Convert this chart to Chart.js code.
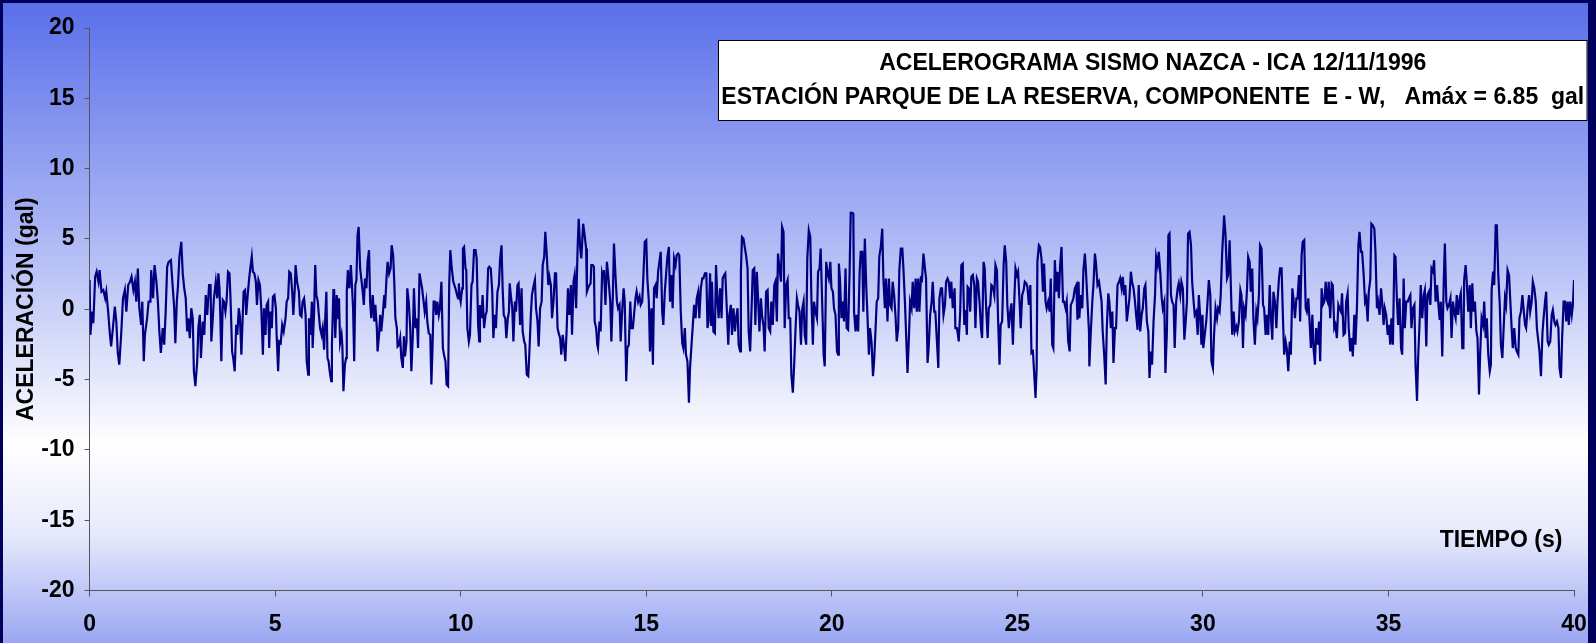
<!DOCTYPE html>
<html>
<head>
<meta charset="utf-8">
<script src="https://cdn.jsdelivr.net/npm/chart.js@4.4.0/dist/chart.umd.min.js"></script>
<style>
  html, body { margin: 0; padding: 0; background: #00005c; overflow: hidden; }
  #marco { position: absolute; left: 3px; top: 3px; width: 1585px; height: 640px; }
</style>
</head>
<body>
<div id="marco"><canvas id="acelerograma" width="1585" height="640"></canvas></div>
<script>
// registro: [tiempo (s), aceleracion (gal)]
const tramo01 = [[0.00,2.08],[0.02,-1.82],[0.07,-0.17],[0.10,-0.99],[0.15,2.31],[0.19,2.67],[0.24,1.96],[0.27,2.78],[0.32,1.25],[0.37,1.37],[0.42,0.78],[0.45,1.25],[0.50,-0.17],[0.54,-1.58],[0.58,-2.64],[0.62,-1.58],[0.68,0.19],[0.72,-0.87],[0.76,-3.11],[0.80,-3.94],[0.85,-1.82],[0.90,0.78],[0.95,1.37],[0.99,-0.17],[1.04,1.72],[1.09,1.96],[1.13,2.31],[1.18,1.37],[1.22,1.96],[1.26,0.54],[1.30,2.90],[1.34,0.07],[1.39,-1.11],[1.42,0.54],[1.46,-3.70],[1.49,-1.82],[1.55,-0.64],[1.59,0.54],[1.64,0.54],[1.66,2.78],[1.71,0.78],[1.75,3.14],[1.80,1.96],[1.84,0.54],[1.88,-1.58],[1.92,-3.11],[1.97,-1.34],[2.01,-2.52],[2.05,-0.17],[2.09,3.02],[2.13,3.37],[2.19,3.49],[2.23,1.96],[2.28,0.07],[2.31,-2.41],[2.35,0.54],[2.38,1.60],[2.42,3.73],[2.47,4.79],[2.51,2.55],[2.55,1.49],[2.59,0.78],[2.63,-1.58],[2.66,-0.64],[2.70,-2.05],[2.74,0.07],[2.78,-0.64],[2.81,-4.41],[2.85,-5.47],[2.90,-3.70],[2.93,-1.34],[2.97,-0.40],[3.00,-3.47],[3.05,-0.87],[3.09,-1.82],[3.13,1.01],[3.17,-0.40],[3.22,1.72]];
const tramo02 = [[3.26,1.72],[3.28,-2.29],[3.32,-0.64],[3.35,0.78],[3.40,1.96],[3.44,0.78],[3.47,2.55],[3.50,1.49],[3.52,-0.17],[3.55,-3.70],[3.59,0.66],[3.62,0.54],[3.66,-0.17],[3.69,0.54],[3.73,2.67],[3.77,2.55],[3.80,0.54],[3.84,-3.00],[3.87,-3.47],[3.91,-4.41],[3.95,-1.11],[3.98,-1.82],[4.02,0.07],[4.05,-0.52],[4.09,-3.23],[4.13,-0.17],[4.15,1.25],[4.19,1.37],[4.22,-0.40],[4.26,1.01],[4.30,2.19],[4.33,2.90],[4.37,3.73],[4.40,2.67],[4.44,2.55],[4.48,1.96],[4.51,0.31],[4.55,2.08],[4.59,1.72],[4.63,-0.17],[4.67,-3.23],[4.70,0.07],[4.74,-1.82],[4.77,0.31],[4.81,0.54],[4.84,-2.76],[4.87,-0.17],[4.91,-1.34],[4.94,0.90],[4.98,1.01],[5.02,0.07],[5.04,-1.82],[5.08,-4.41],[5.11,-2.29],[5.15,-2.41],[5.19,-1.11],[5.23,-1.58],[5.28,-0.64],[5.31,0.54],[5.35,0.78],[5.38,2.67],[5.42,2.55],[5.46,1.25],[5.49,-0.40],[5.53,1.49],[5.55,3.14],[5.59,1.96],[5.64,1.25],[5.67,-0.40],[5.71,-0.52],[5.74,0.54],[5.78,0.78],[5.82,-0.40],[5.85,-3.70],[5.89,-4.65],[5.91,-0.64],[5.95,-1.82],[5.99,0.54],[6.01,-2.76],[6.05,-0.17],[6.08,3.14],[6.11,1.01],[6.15,0.54],[6.17,-0.17],[6.21,-1.34],[6.25,-1.82],[6.28,-1.34],[6.32,-2.88],[6.35,-0.64],[6.38,1.25],[6.41,-3.47],[6.44,-3.70],[6.47,-4.41],[6.51,-5.12],[6.53,-2.52],[6.57,1.37]];
const tramo03 = [[6.59,1.37],[6.62,-2.05],[6.66,1.01],[6.70,-0.64],[6.72,0.78],[6.75,-2.41],[6.79,-1.82],[6.81,-2.52],[6.84,-5.83],[6.88,-3.94],[6.91,-3.47],[6.93,1.25],[6.96,2.78],[7.00,1.49],[7.04,3.14],[7.06,2.19],[7.10,0.07],[7.13,-3.70],[7.16,1.72],[7.19,2.08],[7.22,5.26],[7.25,5.85],[7.29,2.90],[7.32,2.19],[7.36,1.25],[7.39,0.31],[7.42,2.19],[7.46,1.49],[7.49,3.37],[7.53,4.20],[7.56,0.54],[7.59,-0.64],[7.63,1.01],[7.67,-0.87],[7.70,0.31],[7.74,-1.34],[7.76,-3.00],[7.80,-1.82],[7.83,-0.40],[7.86,-1.58],[7.90,-0.40],[7.94,1.01],[7.96,0.07],[8.00,2.19],[8.03,3.37],[8.07,2.55],[8.11,2.90],[8.14,4.55],[8.18,3.84],[8.21,1.96],[8.24,-0.64],[8.28,-1.34],[8.30,-2.64],[8.34,-2.52],[8.37,-2.05],[8.40,-3.47],[8.44,-4.17],[8.47,-1.93],[8.50,-3.35],[8.54,-2.29],[8.56,1.49],[8.60,0.54],[8.64,-1.34],[8.67,-4.41],[8.71,-1.82],[8.74,1.49],[8.78,-1.34],[8.82,-0.64],[8.85,-2.76],[8.89,2.55],[8.92,2.08],[8.96,1.49],[9.00,0.54],[9.03,-0.17],[9.07,0.54],[9.10,-0.87],[9.14,-1.70],[9.18,-1.82],[9.21,-5.35],[9.24,-2.76],[9.27,0.54],[9.30,0.54],[9.34,-0.40],[9.37,0.54],[9.41,-0.40],[9.44,0.07],[9.48,1.96],[9.52,-2.76],[9.55,-3.23],[9.59,-3.70],[9.62,-5.35],[9.66,-5.47],[9.69,1.72],[9.72,4.20],[9.76,2.90],[9.80,1.96],[9.83,1.72],[9.87,1.37],[9.90,1.01]];
const tramo04 = [[9.93,0.78],[9.95,1.84],[9.97,1.01],[10.00,0.54],[10.04,1.49],[10.06,4.32],[10.09,4.43],[10.13,2.90],[10.15,2.78],[10.18,-1.34],[10.22,-2.29],[10.25,-1.82],[10.29,1.72],[10.32,1.96],[10.36,4.20],[10.40,4.20],[10.43,3.61],[10.47,-1.11],[10.50,-2.29],[10.52,0.31],[10.56,-0.64],[10.59,1.01],[10.63,-1.34],[10.67,-0.40],[10.70,-0.17],[10.74,2.90],[10.77,3.02],[10.81,2.90],[10.85,1.25],[10.88,-2.05],[10.92,-0.40],[10.95,-1.34],[10.99,1.25],[11.03,1.72],[11.06,3.49],[11.10,4.55],[11.13,1.49],[11.16,-0.40],[11.20,-0.64],[11.23,-2.05],[11.27,-0.64],[11.30,-0.17],[11.32,1.84],[11.35,1.01],[11.39,0.07],[11.42,-2.29],[11.46,0.54],[11.49,-0.17],[11.53,1.72],[11.56,1.84],[11.60,-1.11],[11.64,1.49],[11.67,-1.58],[11.71,-2.29],[11.74,-2.52],[11.78,-4.65],[11.82,-4.76],[11.85,-3.11],[11.89,-0.40],[11.92,1.01],[11.96,1.60],[12.00,2.08],[12.03,0.07],[12.07,-0.87],[12.10,-2.64],[12.14,0.07],[12.18,0.54],[12.21,3.14],[12.25,3.73],[12.28,5.50],[12.32,3.84],[12.36,1.72],[12.39,2.31],[12.43,1.72],[12.46,-0.64],[12.50,0.54],[12.54,2.55],[12.57,2.55],[12.61,-1.34],[12.64,-1.70],[12.68,-2.05],[12.71,-3.23],[12.75,-1.82],[12.79,-2.76],[12.82,-3.70],[12.86,-1.11],[12.89,1.49],[12.93,-0.40],[12.97,1.72],[13.00,-1.82],[13.04,1.96],[13.07,2.43],[13.11,0.07],[13.15,4.32],[13.18,6.44],[13.22,4.32],[13.25,3.61]];
const tramo05 = [[13.30,6.08],[13.34,5.26],[13.38,4.32],[13.40,1.25],[13.43,1.49],[13.47,1.72],[13.50,1.84],[13.52,3.14],[13.56,3.14],[13.59,3.02],[13.61,-0.87],[13.65,-1.34],[13.68,-2.52],[13.70,-2.76],[13.74,-0.87],[13.77,-1.58],[13.81,2.55],[13.84,2.19],[13.86,2.78],[13.90,0.31],[13.94,3.37],[13.97,2.55],[14.01,1.25],[14.03,0.54],[14.06,-2.29],[14.10,1.01],[14.13,4.67],[14.17,2.43],[14.21,0.54],[14.24,0.07],[14.28,0.31],[14.31,-2.29],[14.35,-0.17],[14.39,1.49],[14.42,0.54],[14.46,-5.12],[14.49,-2.76],[14.53,-2.52],[14.57,0.54],[14.60,-1.34],[14.64,-1.34],[14.67,-0.40],[14.71,0.78],[14.74,1.25],[14.78,0.54],[14.82,0.90],[14.85,0.31],[14.89,0.54],[14.92,2.19],[14.96,4.79],[15.00,4.91],[15.03,2.19],[15.07,0.54],[15.10,-3.00],[15.14,0.07],[15.18,-3.94],[15.21,1.49],[15.25,1.72],[15.28,0.78],[15.32,2.67],[15.36,3.49],[15.39,4.08],[15.43,-0.17],[15.46,-1.11],[15.50,1.25],[15.54,2.67],[15.57,3.73],[15.61,4.43],[15.64,0.54],[15.68,2.43],[15.71,0.07],[15.75,3.61],[15.79,3.14],[15.82,3.84],[15.86,3.96],[15.89,3.84],[15.93,-0.17],[15.97,-2.41],[16.00,-2.76],[16.04,-1.34],[16.07,-3.23],[16.11,-3.70],[16.15,-6.65],[16.18,-4.17],[16.22,-2.52],[16.25,-1.34],[16.29,0.31],[16.33,-0.64],[16.36,0.78],[16.40,1.25],[16.43,-0.64],[16.47,1.49],[16.51,2.19],[16.54,2.19],[16.58,2.55]];
const tramo06 = [[16.62,2.55],[16.65,-1.34],[16.68,-0.87],[16.72,2.55],[16.75,-1.11],[16.77,1.96],[16.81,-1.58],[16.85,-1.70],[16.88,3.14],[16.92,0.54],[16.95,-0.64],[16.99,1.49],[17.03,-0.64],[17.06,2.19],[17.10,2.43],[17.13,2.55],[17.17,0.07],[17.21,-2.52],[17.24,-0.40],[17.28,0.31],[17.31,-1.82],[17.35,0.07],[17.39,-1.58],[17.42,-0.64],[17.46,0.07],[17.49,-2.52],[17.53,-3.00],[17.55,2.67],[17.58,5.14],[17.62,5.02],[17.66,4.32],[17.69,3.84],[17.73,2.90],[17.76,-1.58],[17.80,-3.00],[17.83,-0.64],[17.87,2.78],[17.91,2.90],[17.94,-1.11],[17.98,2.67],[18.01,1.01],[18.05,-1.58],[18.09,0.78],[18.12,-0.40],[18.16,-1.23],[18.19,-3.00],[18.23,1.25],[18.27,1.37],[18.30,-1.34],[18.34,-1.58],[18.37,0.54],[18.41,-1.11],[18.45,1.72],[18.48,1.96],[18.52,-0.87],[18.55,3.96],[18.59,2.90],[18.63,1.96],[18.66,5.85],[18.70,5.50],[18.73,-1.34],[18.77,1.72],[18.81,2.08],[18.84,-0.64],[18.88,-0.64],[18.91,-4.65],[18.95,-5.94],[18.99,-3.70],[19.02,-1.58],[19.06,0.78],[19.09,0.31],[19.13,-0.17],[19.17,-2.52],[19.20,-0.05],[19.24,0.54],[19.27,-1.82],[19.31,-2.52],[19.34,3.61],[19.38,5.61],[19.42,5.14],[19.45,0.78],[19.49,-2.52],[19.52,0.54],[19.56,-0.17],[19.60,-0.64],[19.63,2.67],[19.67,2.90],[19.70,4.32],[19.74,0.54],[19.78,-3.23],[19.81,-4.06],[19.85,3.37],[19.88,2.67],[19.92,2.19]];
const tramo07 = [[19.96,3.37],[19.99,1.49],[20.03,1.25],[20.06,0.07],[20.10,-0.40],[20.14,-3.00],[20.17,-3.23],[20.19,3.25],[20.22,2.19],[20.26,-0.64],[20.30,0.54],[20.33,-0.87],[20.37,2.90],[20.40,-1.34],[20.44,-1.46],[20.48,2.67],[20.51,6.85],[20.55,6.85],[20.58,6.79],[20.60,-0.17],[20.64,-1.58],[20.67,-0.40],[20.71,-1.58],[20.75,2.67],[20.78,4.08],[20.82,4.08],[20.85,-0.17],[20.89,5.02],[20.93,1.49],[20.96,-0.40],[21.00,-3.23],[21.03,-1.34],[21.07,-2.29],[21.11,-4.76],[21.14,-3.70],[21.18,-1.34],[21.21,0.54],[21.25,0.78],[21.28,3.73],[21.32,4.43],[21.36,5.73],[21.39,2.19],[21.43,0.07],[21.46,2.19],[21.50,-0.87],[21.54,2.19],[21.57,0.31],[21.61,0.07],[21.64,1.96],[21.68,1.01],[21.72,-0.64],[21.75,-2.29],[21.79,-1.34],[21.82,2.78],[21.86,4.32],[21.90,4.32],[21.93,2.90],[21.97,0.54],[22.00,-1.58],[22.04,-4.53],[22.08,-1.82],[22.11,0.54],[22.15,0.07],[22.18,1.96],[22.22,0.07],[22.26,2.19],[22.29,-0.17],[22.33,2.19],[22.36,-0.17],[22.40,2.19],[22.43,2.08],[22.47,3.96],[22.51,2.90],[22.54,2.19],[22.58,-3.82],[22.61,-2.76],[22.65,-0.40],[22.69,0.54],[22.72,1.96],[22.76,-0.17],[22.79,-0.17],[22.83,-2.17],[22.87,-4.17],[22.90,0.78],[22.94,1.49],[22.97,1.49],[23.01,-0.40],[23.05,0.31],[23.08,1.96],[23.12,2.19],[23.15,1.96],[23.19,0.78],[23.22,1.96],[23.26,0.07]];
const tramo08 = [[23.31,1.49],[23.33,-1.34],[23.37,-1.34],[23.40,-1.82],[23.42,-2.29],[23.46,-0.17],[23.49,3.14],[23.53,3.25],[23.57,-1.11],[23.60,-0.05],[23.64,-1.82],[23.66,1.60],[23.69,1.49],[23.73,-0.17],[23.76,2.31],[23.80,2.43],[23.84,1.72],[23.87,-1.34],[23.91,2.19],[23.94,1.96],[23.98,0.54],[24.02,-1.34],[24.05,-2.05],[24.09,3.37],[24.12,2.90],[24.16,0.07],[24.20,-2.05],[24.23,0.07],[24.27,0.31],[24.30,1.72],[24.34,1.60],[24.38,1.01],[24.41,3.14],[24.45,2.78],[24.48,-0.64],[24.52,-3.94],[24.55,-1.11],[24.59,-0.87],[24.63,3.14],[24.66,4.55],[24.70,3.37],[24.73,0.31],[24.77,-1.34],[24.81,-0.17],[24.84,0.42],[24.88,-2.52],[24.91,0.07],[24.95,2.90],[24.99,2.43],[25.02,2.67],[25.06,0.54],[25.09,-1.34],[25.13,1.01],[25.17,1.37],[25.20,1.96],[25.24,1.84],[25.27,1.60],[25.31,0.31],[25.35,1.72],[25.38,-3.11],[25.42,-3.00],[25.45,-4.41],[25.49,-6.30],[25.52,-4.17],[25.54,3.37],[25.58,4.55],[25.61,4.43],[25.65,3.61],[25.69,1.25],[25.72,3.25],[25.76,0.54],[25.79,0.07],[25.83,0.54],[25.87,-0.17],[25.90,2.19],[25.94,-2.52],[25.97,-2.76],[26.01,3.49],[26.05,1.25],[26.08,2.67],[26.12,0.78],[26.15,3.02],[26.19,4.43],[26.23,0.54],[26.26,0.54],[26.30,0.07],[26.33,0.54],[26.37,-2.29],[26.41,-3.00],[26.44,0.31],[26.48,0.54],[26.51,0.78],[26.55,1.49],[26.59,1.72],[26.62,-0.75]];
const tramo09 = [[26.65,1.96],[26.67,-0.64],[26.71,1.01],[26.75,0.07],[26.78,2.78],[26.82,3.96],[26.85,2.67],[26.89,0.54],[26.93,-1.58],[26.94,-4.06],[26.98,-1.58],[27.02,0.54],[27.05,1.72],[27.09,3.96],[27.12,3.25],[27.16,1.72],[27.20,1.96],[27.23,1.37],[27.27,0.54],[27.30,-1.58],[27.34,-3.23],[27.38,-5.35],[27.41,-1.34],[27.45,1.13],[27.48,0.54],[27.52,-1.34],[27.56,-0.17],[27.59,-3.82],[27.63,-1.34],[27.66,-1.34],[27.70,1.72],[27.74,1.96],[27.77,2.19],[27.81,1.49],[27.84,2.31],[27.88,1.01],[27.91,1.72],[27.95,-0.87],[27.99,0.07],[28.02,0.78],[28.06,2.67],[28.09,1.96],[28.13,1.49],[28.17,0.54],[28.20,-0.40],[28.24,-1.46],[28.27,1.72],[28.31,-1.58],[28.35,-0.40],[28.38,0.07],[28.42,1.49],[28.45,1.72],[28.49,-0.87],[28.53,-1.58],[28.56,-4.88],[28.60,-3.00],[28.63,-3.94],[28.67,-0.87],[28.71,1.01],[28.74,3.73],[28.78,3.14],[28.81,4.08],[28.85,2.67],[28.89,0.78],[28.92,0.07],[28.96,0.54],[28.99,-4.53],[29.03,-1.58],[29.07,5.26],[29.10,5.38],[29.14,1.01],[29.17,0.54],[29.21,0.31],[29.24,-2.76],[29.28,0.54],[29.32,1.49],[29.35,1.84],[29.39,1.01],[29.42,1.96],[29.46,1.49],[29.50,-2.17],[29.53,-1.11],[29.57,0.54],[29.60,5.38],[29.64,5.50],[29.68,4.55],[29.71,1.96],[29.75,0.54],[29.78,-0.40],[29.82,-0.17],[29.86,-1.82],[29.89,1.01],[29.93,-0.64],[29.96,-2.52]];
const tramo10 = [[29.99,-0.40],[30.01,-2.76],[30.05,-1.82],[30.09,-0.87],[30.12,0.31],[30.16,2.08],[30.20,1.01],[30.23,-3.70],[30.27,-4.17],[30.30,-1.82],[30.34,0.07],[30.38,-0.64],[30.41,0.07],[30.45,-0.17],[30.48,1.01],[30.52,4.08],[30.56,5.97],[30.57,6.67],[30.61,5.26],[30.65,2.19],[30.68,2.43],[30.72,4.91],[30.75,1.96],[30.79,-1.82],[30.83,-0.17],[30.86,-1.58],[30.90,-1.23],[30.93,-1.58],[30.97,-0.87],[31.01,1.37],[31.04,1.01],[31.08,-2.76],[31.11,0.07],[31.15,-0.40],[31.19,1.49],[31.22,3.73],[31.26,3.37],[31.29,1.25],[31.33,2.90],[31.36,-0.64],[31.40,-2.52],[31.44,-0.17],[31.47,-0.64],[31.51,1.01],[31.54,4.55],[31.58,4.32],[31.62,0.31],[31.65,0.07],[31.69,-1.82],[31.72,-0.40],[31.76,-1.82],[31.80,1.72],[31.83,-0.40],[31.87,-2.17],[31.90,1.25],[31.94,0.54],[31.98,-1.34],[32.01,0.54],[32.05,2.19],[32.08,2.90],[32.12,2.90],[32.16,-0.87],[32.19,-3.23],[32.23,-2.29],[32.26,-2.76],[32.30,-4.41],[32.34,-2.29],[32.37,-3.23],[32.41,1.49],[32.44,0.78],[32.48,-0.64],[32.52,0.78],[32.55,0.78],[32.59,2.43],[32.62,-0.87],[32.66,3.84],[32.69,4.79],[32.73,4.91],[32.77,0.07],[32.80,-0.17],[32.84,0.78],[32.87,-0.64],[32.91,-2.76],[32.95,-0.40],[32.98,-2.76],[33.02,-3.94],[33.05,-1.34],[33.09,-2.52],[33.13,-0.87],[33.16,-3.70],[33.20,1.49],[33.23,0.31],[33.27,0.54],[33.31,1.96]];
const tramo11 = [[33.33,0.78],[33.36,0.54],[33.39,1.96],[33.43,-0.64],[33.47,1.84],[33.50,1.72],[33.54,-1.34],[33.57,-1.11],[33.61,-2.05],[33.65,0.31],[33.68,0.07],[33.72,-0.17],[33.75,1.13],[33.79,-1.82],[33.83,-1.70],[33.86,0.54],[33.90,1.13],[33.93,-1.34],[33.97,-3.00],[34.01,-2.05],[34.04,-3.35],[34.08,-0.40],[34.11,-2.52],[34.15,0.07],[34.19,4.55],[34.22,5.50],[34.26,4.08],[34.29,4.08],[34.33,2.55],[34.37,0.54],[34.40,0.78],[34.44,-0.87],[34.47,1.25],[34.51,2.08],[34.54,6.08],[34.58,5.97],[34.62,5.73],[34.65,4.08],[34.69,0.07],[34.72,0.54],[34.76,-0.40],[34.80,1.49],[34.83,0.54],[34.87,-1.11],[34.90,0.07],[34.94,-0.40],[34.98,-1.82],[35.01,-1.11],[35.05,-2.52],[35.08,-0.64],[35.12,-2.52],[35.16,3.84],[35.19,3.73],[35.23,0.54],[35.26,-1.11],[35.30,0.78],[35.34,-2.76],[35.37,-3.23],[35.41,2.19],[35.44,-1.34],[35.48,0.54],[35.52,0.54],[35.55,0.78],[35.59,1.01],[35.62,-1.34],[35.66,0.07],[35.70,0.31],[35.73,-3.94],[35.77,-6.53],[35.80,-3.47],[35.84,-0.87],[35.87,1.72],[35.91,-0.64],[35.95,1.01],[35.98,1.37],[36.02,-2.64],[36.05,1.01],[36.09,1.25],[36.13,0.31],[36.16,2.90],[36.20,2.67],[36.23,3.49],[36.27,0.54],[36.31,1.72],[36.34,0.54],[36.38,-0.75],[36.41,0.54],[36.45,-3.35],[36.49,1.96],[36.52,4.67],[36.56,0.54],[36.59,0.07],[36.63,0.31]];
const tramo12 = [[36.67,0.78],[36.70,-2.05],[36.74,0.54],[36.77,-0.17],[36.81,-0.64],[36.84,1.01],[36.88,-0.40],[36.92,0.78],[36.95,1.13],[36.99,-2.76],[37.02,-2.76],[37.04,2.08],[37.08,3.14],[37.11,1.96],[37.15,-0.17],[37.19,1.72],[37.22,-1.34],[37.26,1.84],[37.29,-0.17],[37.33,0.54],[37.37,-1.58],[37.40,-2.05],[37.44,-6.06],[37.47,-3.23],[37.51,-0.64],[37.55,-1.11],[37.58,0.54],[37.62,-2.05],[37.65,-0.64],[37.69,-3.23],[37.73,-4.41],[37.76,-3.94],[37.78,1.37],[37.82,2.67],[37.85,1.72],[37.89,5.97],[37.92,5.97],[37.96,2.43],[38.00,0.31],[38.03,-2.52],[38.07,-3.47],[38.10,-1.58],[38.14,0.78],[38.17,0.31],[38.21,2.78],[38.25,2.43],[38.28,0.78],[38.32,-1.34],[38.35,-2.76],[38.39,-1.34],[38.43,-2.76],[38.46,-3.00],[38.50,-3.23],[38.53,-0.64],[38.57,-0.17],[38.61,1.01],[38.64,0.07],[38.68,-1.11],[38.71,-1.34],[38.75,0.07],[38.79,1.01],[38.82,-0.17],[38.86,0.54],[38.89,1.96],[38.93,1.49],[38.97,0.54],[39.00,-1.34],[39.04,-2.29],[39.07,-3.00],[39.11,-4.76],[39.15,-1.70],[39.18,-0.64],[39.22,0.54],[39.25,1.25],[39.29,-2.29],[39.32,-2.52],[39.36,-2.29],[39.40,-0.40],[39.43,-0.05],[39.47,-0.87],[39.50,-1.11],[39.54,-0.87],[39.58,-1.34],[39.61,-4.17],[39.65,-4.88],[39.68,-2.05],[39.72,0.54],[39.76,0.54],[39.79,-0.87],[39.83,0.54],[39.86,-1.11],[39.90,0.54],[39.94,-0.40],[39.97,0.31],[40.00,2.08]];

const ticksTiempo = [0, 5, 10, 15, 20, 25, 30, 35, 40];
const ticksAceleracion = [-20, -15, -10, -5, 0, 5, 10, 15, 20];
const tituloLineas = ['ACELEROGRAMA SISMO NAZCA - ICA 12/11/1996',
                      'ESTACIÓN PARQUE DE LA RESERVA, COMPONENTE  E - W,   Amáx = 6.85  gal'];
const etiquetaTiempo = 'TIEMPO (s)';
const etiquetaAceleracion = 'ACELERACIÓN (gal)';

const registro = [].concat(tramo01, tramo02, tramo03, tramo04, tramo05, tramo06,
                           tramo07, tramo08, tramo09, tramo10, tramo11, tramo12);

const FAMILIA = '"Liberation Sans", Arial, sans-serif';
const fuente = { family: FAMILIA, size: 23, weight: 'bold' };

// fondo degradado azul - blanco - azul
const fondo = {
    id: 'fondo',
    beforeDraw(chart) {
        const c = chart.ctx;
        const g = c.createLinearGradient(0, 0, 0, chart.height);
        g.addColorStop(0, '#5a6fea');
        g.addColorStop(0.35, '#a9b4f4');
        g.addColorStop(0.69, '#ffffff');
        g.addColorStop(0.83, '#e6e9fc');
        g.addColorStop(1, '#9aa7f2');
        c.save();
        c.fillStyle = g;
        c.fillRect(0, 0, chart.width, chart.height);
        c.restore();
    }
};

// cuadro de titulo y rotulo del eje de tiempo
const rotulos = {
    id: 'rotulos',
    afterDraw(chart) {
        const c = chart.ctx;
        const area = chart.chartArea;
        c.save();
        const x0 = 715.5, y0 = 37.5, w = chart.width - 1 - x0, h = 80;
        c.fillStyle = '#ffffff';
        c.fillRect(x0, y0, w, h);
        c.strokeStyle = '#000000';
        c.lineWidth = 1;
        c.strokeRect(x0, y0, w, h);
        c.fillStyle = '#000000';
        c.font = 'bold 23px ' + FAMILIA;
        c.textAlign = 'center';
        c.textBaseline = 'middle';
        c.fillText(tituloLineas[0], x0 + w / 2, y0 + 23);
        c.fillText(tituloLineas[1], x0 + w / 2, y0 + 57);
        c.fillText(etiquetaTiempo, area.right - 73, area.bottom - 50);
        c.restore();
    }
};

new Chart(document.getElementById('acelerograma'), {
    type: 'line',
    data: {
        datasets: [{
            label: 'Aceleración',
            data: registro.map(([t, a]) => ({ x: t, y: a })),
            borderColor: '#000080',
            borderWidth: 2.2,
            pointRadius: 0,
            tension: 0,
            fill: false
        }]
    },
    options: {
        responsive: false,
        animation: false,
        devicePixelRatio: 1,
        layout: { padding: { top: 25, right: 14, left: 0, bottom: 0 } },
        plugins: { legend: { display: false }, tooltip: { enabled: false } },
        scales: {
            x: {
                type: 'linear',
                min: 0,
                max: 40,
                afterBuildTicks: s => { s.ticks = ticksTiempo.map(v => ({ value: v })); },
                afterFit: s => { s.height = 52.5; s.paddingLeft = 0; s.paddingRight = 0; },
                grid: { drawOnChartArea: false, tickLength: 6, color: '#555555' },
                border: { color: '#555555', width: 1 },
                ticks: { font: fuente, color: '#000000', padding: 14, maxRotation: 0 }
            },
            y: {
                min: -20,
                max: 20,
                afterBuildTicks: s => { s.ticks = ticksAceleracion.map(v => ({ value: v })); },
                afterFit: s => { s.width = 86.6; s.paddingTop = 0; s.paddingBottom = 0; },
                grid: { drawOnChartArea: false, tickLength: 5, color: '#555555' },
                border: { color: '#555555', width: 1 },
                ticks: { font: fuente, color: '#000000', padding: 10 },
                title: { display: true, text: etiquetaAceleracion, font: fuente, color: '#000000',
                         padding: { top: 10, bottom: 0 } }
            }
        }
    },
    plugins: [fondo, rotulos]
});
</script>
</body>
</html>
